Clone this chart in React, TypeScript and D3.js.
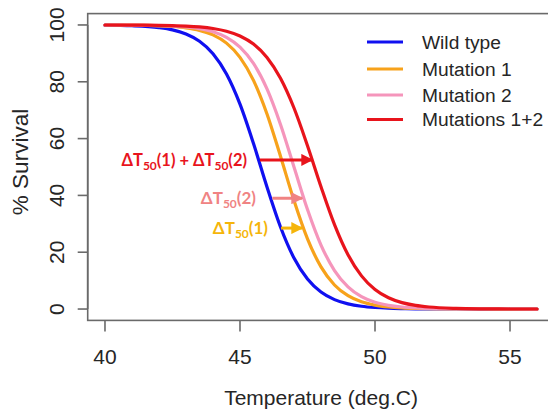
import React from "react";
import * as d3 from "d3";

const temps = [40, 41, 42, 42.5, 43, 43.5, 44, 44.5, 45, 45.5, 46, 46.5, 47, 47.5, 48, 48.5, 49, 49.5, 50, 50.5, 51, 51.5, 52, 53, 54, 55, 56];
const wildType = [99.92, 99.72, 99.06, 98.27, 96.83, 94.28, 89.9, 82.75, 72.13, 58.25, 42.95, 28.88, 17.96, 10.56, 5.99, 3.32, 1.82, 0.99, 0.54, 0.29, 0.16, 0.08, 0.05, 0.01, 0, 0, 0];
const mutation1 = [99.98, 99.92, 99.71, 99.46, 98.99, 98.11, 96.5, 93.61, 88.61, 80.5, 68.67, 53.79, 38.2, 24.71, 14.84, 8.47, 4.69, 2.54, 1.37, 0.73, 0.39, 0.21, 0.11, 0.03, 0.01, 0, 0];
const mutation2 = [99.98, 99.94, 99.79, 99.62, 99.29, 98.69, 97.6, 95.63, 92.19, 86.44, 77.47, 64.96, 50, 35.04, 22.53, 13.56, 7.81, 4.37, 2.4, 1.31, 0.71, 0.39, 0.21, 0.06, 0.02, 0.01, 0];
const mutations12 = [99.99, 99.96, 99.88, 99.78, 99.61, 99.3, 98.75, 97.79, 96.12, 93.27, 88.57, 81.23, 70.76, 57.49, 43.07, 29.73, 19.12, 11.68, 6.88, 3.97, 2.26, 1.28, 0.72, 0.23, 0.07, 0.02, 0.01];

const seriesNames = ["Wild type", "Mutation 1", "Mutation 2", "Mutations 1+2"];
const seriesValues = [wildType, mutation1, mutation2, mutations12];
const seriesColors = ["#1010f0", "#f7a21b", "#f595bb", "#e8141c"];

const xTicks = [40, 45, 50, 55];
const yTicks = [0, 20, 40, 60, 80, 100];

// annotation arrows: [y value (%), x start (deg C), x end (deg C)]
const arrowY = [52.5, 39, 28.5];
const arrowX0 = [45.74, 46.2, 46.52];
const arrowX1 = [47.67, 47.3, 47.3];
const arrowColors = ["#e8141c", "#f08383", "#f5b50a"];

export default function App() {
  const x = d3.scaleLinear().domain([39.36, 56.64]).range([87.7, 554.3]);
  const y = d3.scaleLinear().domain([-4, 104]).range([320.4, 13.6]);
  const line = d3
    .line<[number, number]>()
    .x((d) => x(d[0]))
    .y((d) => y(d[1]))
    .curve(d3.curveMonotoneX);

  const axisColor = "#6a6a6a";
  const textColor = "#262626";
  const font = "'Liberation Sans', Arial, sans-serif";
  const annFont = "Lato, 'Noto Sans', sans-serif";

  const legendY = [42, 69, 95, 119.5];

  return (
    <svg
      width={548}
      height={418}
      style={{ position: "absolute", left: 0, top: 0, background: "#fff" }}
    >
      <defs>
        {arrowColors.map((c, i) => (
          <marker
            key={i}
            id={`ah${i}`}
            viewBox="0 0 10 10"
            refX={9}
            refY={5}
            markerWidth={4}
            markerHeight={4}
            orient="auto"
            markerUnits="strokeWidth"
          >
            <path d="M0,0 L10,5 L0,10 z" fill={c} />
          </marker>
        ))}
      </defs>
      {/* box */}
      <rect
        x={x(39.36)}
        y={y(104)}
        width={x(56.64) - x(39.36)}
        height={y(-4) - y(104)}
        fill="none"
        stroke={axisColor}
        strokeWidth={1.6}
      />
      {/* y axis ticks */}
      <line x1={x(39.36)} x2={x(39.36)} y1={y(0)} y2={y(100)} stroke={axisColor} strokeWidth={1.6} />
      {yTicks.map((t) => (
        <g key={t}>
          <line x1={x(39.36) - 10} x2={x(39.36)} y1={y(t)} y2={y(t)} stroke={axisColor} strokeWidth={1.6} />
          <text
            transform={`translate(63.5,${y(t)}) rotate(-90)`}
            textAnchor="middle"
            fontFamily={font}
            fontSize={21}
            fill={textColor}
          >
            {t}
          </text>
        </g>
      ))}
      {/* x axis ticks */}
      {xTicks.map((t) => (
        <g key={t}>
          <line x1={x(t)} x2={x(t)} y1={y(-4)} y2={y(-4) + 11} stroke={axisColor} strokeWidth={1.6} />
          <text x={x(t)} y={364} textAnchor="middle" fontFamily={font} fontSize={21} fill={textColor}>
            {t}
          </text>
        </g>
      ))}
      <text x={321} y={405} textAnchor="middle" fontFamily={font} fontSize={21} fill={textColor}>
        Temperature (deg.C)
      </text>
      <text
        transform={`translate(28,162) rotate(-90)`}
        textAnchor="middle"
        fontFamily={font}
        fontSize={22.5}
        fill={textColor}
      >
        % Survival
      </text>

      {/* curves */}
      {seriesValues.map((vals, i) => (
        <path
          key={i}
          d={line(temps.map((t, j) => [t, vals[j]] as [number, number])) || ""}
          fill="none"
          stroke={seriesColors[i]}
          strokeWidth={3.2}
          strokeLinecap="round"
        />
      ))}

      {/* legend */}
      {seriesNames.map((n, i) => (
        <g key={n}>
          <line x1={367} x2={403} y1={legendY[i]} y2={legendY[i]} stroke={seriesColors[i]} strokeWidth={3.2} />
          <text x={422} y={legendY[i]} dy="0.35em" fontFamily={font} fontSize={19.2} fill={textColor}>
            {n}
          </text>
        </g>
      ))}

      {/* arrows */}
      {arrowY.map((v, i) => (
        <line
          key={i}
          x1={x(arrowX0[i])}
          x2={x(arrowX1[i])}
          y1={y(v)}
          y2={y(v)}
          stroke={arrowColors[i]}
          strokeWidth={3}
          markerEnd={`url(#ah${i})`}
        />
      ))}

      {/* annotation labels */}
      <text x={247} y={y(arrowY[0])} dy="0.35em" textAnchor="end" fontFamily={annFont} fontWeight="bold" fontSize={16.5} fill={arrowColors[0]}>
        ΔT<tspan fontSize={12} dy={4}>50</tspan>
        <tspan dy={-4}>(1) + ΔT</tspan>
        <tspan fontSize={12} dy={4}>50</tspan>
        <tspan dy={-4}>(2)</tspan>
      </text>
      <text x={256} y={y(arrowY[1])} dy="0.35em" textAnchor="end" fontFamily={annFont} fontWeight="bold" fontSize={17} fill={arrowColors[1]}>
        ΔT<tspan fontSize={12} dy={4}>50</tspan>
        <tspan dy={-4}>(2)</tspan>
      </text>
      <text x={268} y={y(arrowY[2])} dy="0.35em" textAnchor="end" fontFamily={annFont} fontWeight="bold" fontSize={17} fill={arrowColors[2]}>
        ΔT<tspan fontSize={12} dy={4}>50</tspan>
        <tspan dy={-4}>(1)</tspan>
      </text>
    </svg>
  );
}
